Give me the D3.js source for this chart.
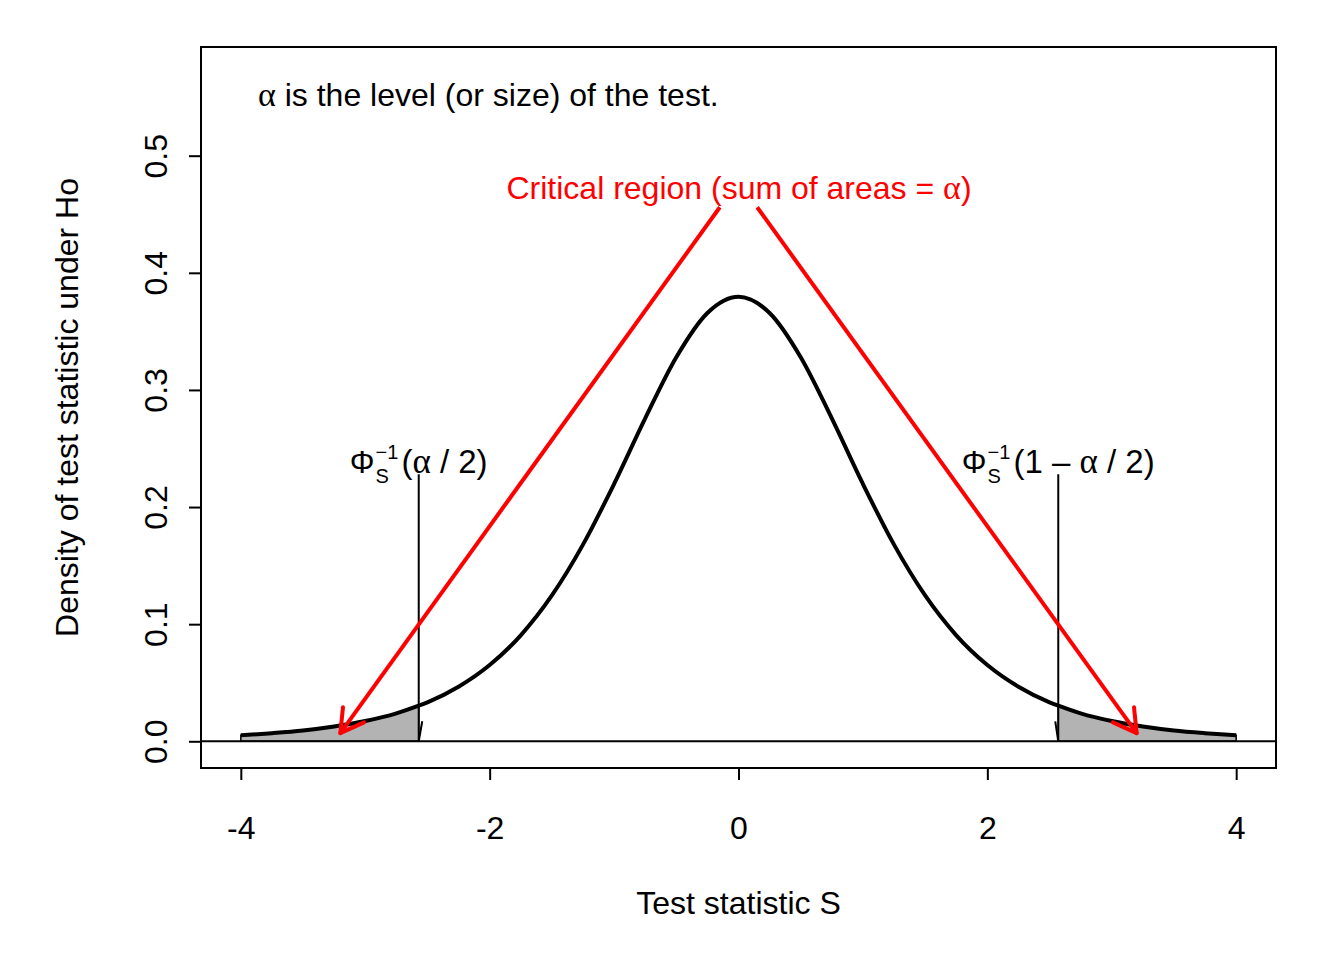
<!DOCTYPE html>
<html><head><meta charset="utf-8">
<script src="https://cdn.jsdelivr.net/npm/d3@7"></script>
<style>body{margin:0;background:#fff}text{font-family:"Liberation Sans",Arial,sans-serif}</style>
</head><body><svg id="c" width="1344" height="960"></svg>
<script>
// Density values
const statX   = [-4,-3.75,-3.5,-3.25,-3,-2.75,-2.57,-2.5,-2.25,-2,-1.75,-1.5,-1.25,-1,-0.75,-0.5,-0.25,0,0.25,0.5,0.75,1,1.25,1.5,1.75,2,2.25,2.5,2.57,2.75,3,3.25,3.5,3.75,4];
const density = [0.0051,0.0069,0.0092,0.0126,0.0173,0.0239,0.0304,0.0333,0.0466,0.0651,0.0905,0.1245,0.1679,0.2197,0.2757,0.3279,0.3657,0.3796,0.3657,0.3279,0.2757,0.2197,0.1679,0.1245,0.0905,0.0651,0.0466,0.0333,0.0304,0.0239,0.0173,0.0126,0.0092,0.0069,0.0051];
const criticalValues = [-2.57, 2.57];
const markerTop = 0.228;
const xTicks = [-4,-2,0,2,4];
const xTickLabels = ["-4","-2","0","2","4"];
const yTicks = [0,0.1,0.2,0.3,0.4,0.5];
const yTickLabels = ["0.0","0.1","0.2","0.3","0.4","0.5"];
const arrowStarts = [[-0.15,0.456],[0.15,0.456]];
const arrowEnds   = [[-3.2,0.007],[3.2,0.007]];

const FS = 32;
const svg = d3.select("#c");
const L=201,R=1276,T=47,B=768;
const x = d3.scaleLinear().domain([-4.32,4.32]).range([L,R]);
const y = d3.scaleLinear().domain([-0.0228,0.5928]).range([B,T]);
const pts = statX.map((v,i)=>[v,density[i]]);

// shaded tails
const area = d3.area().x(d=>x(d[0])).y0(y(0)).y1(d=>y(d[1])).curve(d3.curveMonotoneX);
[pts.filter(d=>d[0]<=criticalValues[0]), pts.filter(d=>d[0]>=criticalValues[1])].forEach(seg=>{
  svg.append("path").attr("d",area(seg)).attr("fill","#b3b3b3").attr("stroke","#000").attr("stroke-width",1.5);
});

// horizontal line at 0
svg.append("line").attr("x1",L).attr("x2",R).attr("y1",y(0)).attr("y2",y(0)).attr("stroke","#000").attr("stroke-width",2);

// density curve
svg.append("path").datum(pts).attr("d",d3.line().x(d=>x(d[0])).y(d=>y(d[1])).curve(d3.curveMonotoneX))
  .attr("fill","none").attr("stroke","#000").attr("stroke-width",4);

// vertical markers with small heads
criticalValues.forEach(c=>{
  svg.append("line").attr("x1",x(c)).attr("x2",x(c)).attr("y1",y(markerTop)).attr("y2",y(0)).attr("stroke","#000").attr("stroke-width",2);
  const dx = c<0 ? 3.5 : -3;
  svg.append("line").attr("x1",x(c)+dx).attr("x2",x(c)).attr("y1",y(0)-20).attr("y2",y(0)).attr("stroke","#000").attr("stroke-width",2);
});

// red arrows
arrowStarts.forEach((s,i)=>{
  const e = arrowEnds[i];
  const x0=x(s[0]),y0=y(s[1]),x1=x(e[0]),y1=y(e[1]);
  svg.append("line").attr("x1",x0).attr("y1",y0).attr("x2",x1).attr("y2",y1).attr("stroke","#ff0000").attr("stroke-width",4);
  const ang=Math.atan2(y0-y1,x0-x1), len=26, spread=Math.PI/6;
  [ang-spread, ang+spread].forEach(a=>{
    svg.append("line").attr("x1",x1).attr("y1",y1).attr("x2",x1+len*Math.cos(a)).attr("y2",y1+len*Math.sin(a))
      .attr("stroke","#ff0000").attr("stroke-width",4).attr("stroke-linecap","round");
  });
});

// box
svg.append("rect").attr("x",L).attr("y",T).attr("width",R-L).attr("height",B-T).attr("fill","none").attr("stroke","#000").attr("stroke-width",2);

// x axis
const xa = svg.append("g").attr("transform",`translate(0,${B})`)
  .call(d3.axisBottom(x).tickValues(xTicks).tickSize(12).tickPadding(36).tickFormat((d,i)=>xTickLabels[i]));
xa.select(".domain").attr("d",`M${x(-4)},0H${x(4)}`).attr("stroke-width",2);
xa.selectAll(".tick line").attr("stroke-width",2);
xa.selectAll("text").attr("font-size",FS).attr("font-family","Liberation Sans, Arial").attr("fill","#000");

// y axis
const ya = svg.append("g").attr("transform",`translate(${L},0)`)
  .call(d3.axisLeft(y).tickValues(yTicks).tickSize(12).tickFormat((d,i)=>yTickLabels[i]));
ya.select(".domain").attr("d",`M0,${y(0)}V${y(0.5)}`).attr("stroke-width",2);
ya.selectAll(".tick line").attr("stroke-width",2);
ya.selectAll(".tick text").attr("font-size",FS).attr("font-family","Liberation Sans, Arial").attr("fill","#000")
  .attr("x",null).attr("dy",null).attr("text-anchor","middle")
  .attr("transform","translate(-45,0) rotate(-90) translate(0,11)");

// axis titles
svg.append("text").attr("x",(L+R)/2).attr("y",914).attr("text-anchor","middle").attr("font-size",FS).text("Test statistic S");
svg.append("text").attr("transform",`translate(78,${(T+B)/2}) rotate(-90)`).attr("text-anchor","middle").attr("font-size",FS).text("Density of test statistic under Ho");

// annotations
const t1 = svg.append("text").attr("x",258).attr("y",106).attr("font-size",FS);
t1.append("tspan").attr("font-family","Liberation Serif, serif").attr("font-size",34).text("α");
t1.append("tspan").text(" is the level (or size) of the test.");

const t2 = svg.append("text").attr("x",739).attr("y",199).attr("text-anchor","middle").attr("font-size",FS).attr("fill","#ff0000");
t2.append("tspan").text("Critical region (sum of areas = ");
t2.append("tspan").attr("font-family","Liberation Serif, serif").attr("font-size",34).text("α");
t2.append("tspan").text(")");

// Phi labels
function phiLabel(cx, parts){
  const g = svg.append("g");
  const base = 473;
  let cur = 0;
  const phi = g.append("text").attr("x",0).attr("y",base).attr("font-size",31).attr("font-family","DejaVu Serif, serif").text("Φ");
  cur += phi.node().getComputedTextLength()+1;
  const sup = g.append("text").attr("x",cur).attr("y",base-14).attr("font-size",20).text("−1");
  const sub = g.append("text").attr("x",cur).attr("y",base+10).attr("font-size",20).text("S");
  cur += Math.max(sup.node().getComputedTextLength(), sub.node().getComputedTextLength())+3;
  const rest = g.append("text").attr("x",cur).attr("y",base).attr("font-size",33);
  parts.forEach(p=>{
    const ts = rest.append("tspan").text(p.t);
    if(p.greek) ts.attr("font-family","Liberation Serif, serif").attr("font-size",35);
  });
  cur += rest.node().getComputedTextLength();
  g.attr("transform",`translate(${cx-cur/2},0)`);
}
phiLabel(x(criticalValues[0]), [{t:"("},{t:"α",greek:true},{t:" / 2)"}]);
phiLabel(x(criticalValues[1]), [{t:"(1 – "},{t:"α",greek:true},{t:" / 2)"}]);
</script></body></html>
